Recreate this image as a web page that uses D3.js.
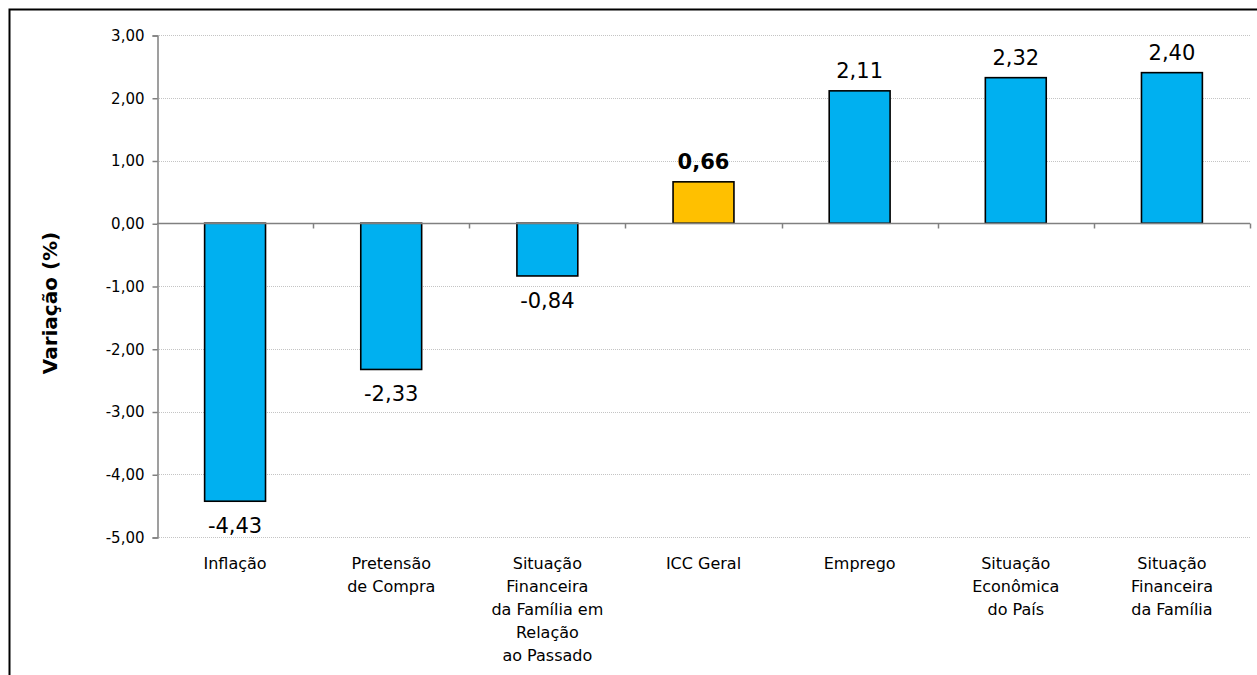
<!DOCTYPE html>
<html>
<head>
<meta charset="utf-8">
<script src="https://cdn.jsdelivr.net/npm/d3@7"></script>
<style>
  html, body { margin: 0; padding: 0; background: #fff; }
  svg { display: block; }
  text { font-family: "DejaVu Sans", Verdana, sans-serif; fill: #000; }
</style>
</head>
<body>
<script>
// Índice de Confiança do Consumidor – variação por componente
const categories = [
  ["Inflação"],
  ["Pretensão", "de Compra"],
  ["Situação", "Financeira", "da Família em", "Relação", "ao Passado"],
  ["ICC Geral"],
  ["Emprego"],
  ["Situação", "Econômica", "do País"],
  ["Situação", "Financeira", "da Família"]
];
const values = [-4.43, -2.33, -0.84, 0.66, 2.11, 2.32, 2.40];
const highlightIndex = 3;
const yTicks = [3, 2, 1, 0, -1, -2, -3, -4, -5];
const yTitle = "Variação (%)";

const W = 1257, H = 675;
const margin = { left: 157, right: 7, top: 35, bottom: 138 };

const fmt = v => v.toFixed(2).replace(".", ",");

const svg = d3.select("body").append("svg")
  .attr("width", W).attr("height", H);

// outer frame (top and left edges)
svg.append("path")
  .attr("d", `M9.5,${H} V9.5 H${W}`)
  .attr("fill", "none").attr("stroke", "#000").attr("stroke-width", 2);

const x = d3.scaleBand()
  .domain(d3.range(values.length))
  .range([margin.left, W - margin.right])
  .paddingInner(0.61).paddingOuter(0.305);

const y = d3.scaleLinear()
  .domain([-5, 3])
  .range([H - margin.bottom, margin.top]);

// grid lines
svg.append("g").selectAll("line")
  .data(yTicks.filter(t => t !== 0))
  .join("line")
  .attr("x1", margin.left).attr("x2", W - margin.right)
  .attr("y1", d => Math.round(y(d)) + 0.5).attr("y2", d => Math.round(y(d)) + 0.5)
  .attr("stroke", "#c4c4c4").attr("stroke-width", 1)
  .attr("stroke-dasharray", "1,1");

// y axis
const yAxis = d3.axisLeft(y).tickValues(yTicks).tickSize(5).tickFormat(fmt);
const gy = svg.append("g")
  .attr("transform", `translate(${margin.left + 0.5},0.5)`)
  .call(yAxis);
gy.select(".domain").attr("stroke", "#808080").attr("stroke-width", 1.5);
gy.selectAll(".tick line").attr("stroke", "#808080").attr("stroke-width", 1.5);
gy.selectAll(".tick text")
  .attr("x", -13)
  .style("font-family", "'DejaVu Sans', Verdana, sans-serif")
  .style("font-size", "15px").attr("fill", "#000");

// bars
svg.append("g").selectAll("rect")
  .data(values)
  .join("rect")
  .attr("x", (d, i) => x(i))
  .attr("width", x.bandwidth())
  .attr("y", d => y(Math.max(0, d)))
  .attr("height", d => Math.abs(y(d) - y(0)))
  .attr("fill", (d, i) => i === highlightIndex ? "#FFC000" : "#00B0F0")
  .attr("stroke", "#000").attr("stroke-width", 1.6);

// category axis at zero
const y0 = Math.round(y(0)) + 0.5;
svg.append("line")
  .attr("x1", margin.left).attr("x2", W - margin.right)
  .attr("y1", y0).attr("y2", y0)
  .attr("stroke", "#808080").attr("stroke-width", 1.5);
const step = x.step();
svg.append("g").selectAll("line")
  .data(d3.range(1, values.length + 1))
  .join("line")
  .attr("x1", i => Math.round(margin.left + i * step) + 0.5)
  .attr("x2", i => Math.round(margin.left + i * step) + 0.5)
  .attr("y1", y0).attr("y2", y0 + 5)
  .attr("stroke", "#808080").attr("stroke-width", 1.5);

// value labels
svg.append("g").selectAll("text")
  .data(values)
  .join("text")
  .attr("x", (d, i) => x(i) + x.bandwidth() / 2)
  .attr("y", d => d >= 0 ? y(d) - 13 : y(d) + 32)
  .attr("text-anchor", "middle")
  .style("font-size", "21px")
  .style("font-weight", (d, i) => i === highlightIndex ? "bold" : "normal")
  .text(fmt);

// category labels
const cat = svg.append("g").selectAll("text")
  .data(categories)
  .join("text")
  .attr("text-anchor", "middle")
  .style("font-size", "16px");
cat.each(function(lines, i) {
  d3.select(this).selectAll("tspan")
    .data(lines)
    .join("tspan")
    .attr("x", x(i) + x.bandwidth() / 2)
    .attr("y", (l, j) => 569 + j * 23)
    .text(l => l);
});

// y axis title
svg.append("text")
  .attr("transform", `translate(57,${(y(3) + y(-5)) / 2 + 17}) rotate(-90)`)
  .attr("text-anchor", "middle")
  .style("font-size", "20px").style("font-weight", "bold")
  .text(yTitle);
</script>
</body>
</html>
